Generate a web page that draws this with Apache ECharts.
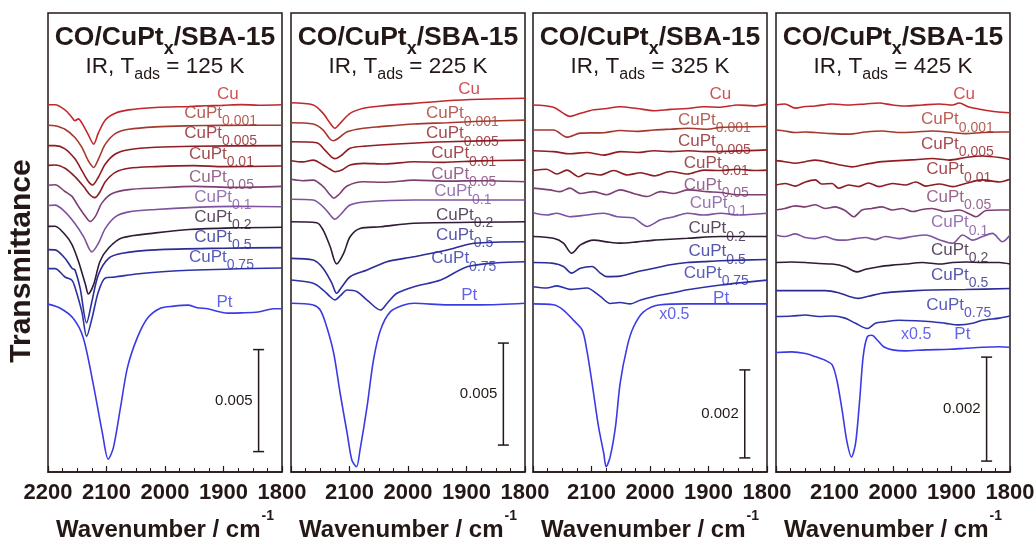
<!DOCTYPE html>
<html>
<head>
<meta charset="utf-8">
<script src="https://cdn.jsdelivr.net/npm/echarts/dist/echarts.min.js"></script>
<style>html,body{margin:0;background:#fff}#main{width:1036px;height:542px}</style>
</head>
<body>
<div id="main"></div>
<script>
// IR spectra of CO on CuPtx/SBA-15, four adsorption temperatures
var FONT = '"Liberation Sans", Arial, Helvetica, sans-serif';
var INK = '#231816';

var names = ['Cu', 'CuPt', 'CuPt', 'CuPt', 'CuPt', 'CuPt', 'CuPt', 'CuPt', 'CuPt', 'Pt'];
var subs = ['', '0.001', '0.005', '0.01', '0.05', '0.1', '0.2', '0.5', '0.75', ''];
var colors = ['#c1272d', '#a5382c', '#8f1d23', '#8a1e24', '#7d3f72', '#7d52a0', '#2f1b36', '#2b2c95', '#2d32a8', '#3b3be6'];
var temps = ['125 K', '225 K', '325 K', '425 K'];

// transmittance, offset, in units of 0.001 ; [wavenumber, value]
var t125 = [
  [[2200,18],[2188,18],[2171,17.75],[2159,17.38],[2154,17.22],[2148,17.31],[2142,17.1],[2131,16.53],[2122,16.07],[2114,16.61],[2102,17.26],[2085,17.59],[2062,17.75],[2016,17.87],[1959,17.92],[1930,17.95],[1902,17.97],[1870,18.01],[1840,17.98],[1800,18]],
  [[2200,17],[2188,16.97],[2171,16.8],[2154,16.4],[2142,15.91],[2131,15.25],[2122,14.93],[2114,15.33],[2102,16.07],[2085,16.59],[2062,16.8],[2016,16.92],[1959,16.97],[1900,16.99],[1800,17]],
  [[2200,16],[2188,16],[2171,15.84],[2154,15.35],[2142,14.77],[2131,14.24],[2124,14.07],[2114,14.45],[2102,15.1],[2085,15.59],[2062,15.8],[2016,15.92],[1950,15.97],[1800,16]],
  [[2200,15.03],[2188,15.05],[2171,14.89],[2154,14.48],[2139,13.99],[2128,13.58],[2120,13.45],[2111,13.74],[2102,14.23],[2085,14.69],[2062,14.89],[2016,14.97],[1950,15.02],[1900,14.97],[1800,15]],
  [[2200,14.06],[2188,14.08],[2171,13.75],[2159,13.51],[2148,13.02],[2136,12.53],[2128,12.28],[2119,12.53],[2108,13.18],[2091,13.64],[2062,13.84],[2016,13.92],[1950,14],[1880,13.95],[1800,14]],
  [[2200,13.06],[2188,13.08],[2171,12.75],[2154,12.18],[2139,11.53],[2125,10.79],[2114,11.2],[2102,11.94],[2085,12.51],[2062,12.75],[2016,12.87],[1950,12.97],[1880,13.02],[1800,13]],
  [[2200,12.04],[2188,12.05],[2171,11.64],[2159,11.15],[2148,10.33],[2136,9.19],[2131,8.73],[2122,9.19],[2111,10.33],[2096,10.99],[2073,11.48],[2016,11.72],[1959,11.89],[1880,11.97],[1800,12]],
  [[2200,10.9],[2188,10.89],[2171,10.48],[2159,9.99],[2154,9.91],[2145,9],[2134,7.31],[2125,8.35],[2114,9.66],[2096,10.48],[2073,10.72],[2016,10.89],[1900,10.97],[1800,11]],
  [[2200,9.97],[2188,9.97],[2171,9.56],[2159,9.4],[2154,9.07],[2142,7.84],[2134,6.65],[2125,7.51],[2114,8.82],[2102,9.51],[2085,9.56],[2045,9.72],[1959,9.89],[1800,10]],
  [[2200,8.23],[2179,8.03],[2157,7.54],[2140,6.61],[2123,4.36],[2107,1.91],[2097,0.63],[2088,1.22],[2076,3.18],[2064,5.14],[2047,6.61],[2030,7.54],[2008,8.03],[1985,8.13],[1961,8.18],[1945,8.05],[1927,8],[1893,7.79],[1870,7.8],[1841,7.84],[1814,8],[1800,8]]
];
var t225 = [
  [[2200,18.1],[2162,17.99],[2145,17.58],[2133,17.09],[2125,16.85],[2116,17.09],[2099,17.58],[2076,17.83],[2047,17.94],[1990,18.07],[1933,18.2],[1876,18.27],[1800,18.32]],
  [[2200,17.12],[2162,17.06],[2145,16.76],[2133,16.31],[2127,16.24],[2119,16.36],[2104,16.68],[2076,16.85],[2047,16.93],[1990,17.06],[1933,17.12],[1876,17.19],[1800,17.25]],
  [[2200,16.19],[2156,16.14],[2142,15.78],[2130,15.42],[2125,15.36],[2113,15.54],[2099,15.87],[2070,15.98],[2019,16.08],[1933,16.19],[1800,16.27]],
  [[2200,15.26],[2180,15.2],[2162,15.29],[2145,15.05],[2133,14.84],[2125,14.72],[2113,14.8],[2099,15.05],[2076,15.13],[2040,15.1],[1990,15.21],[1940,15.18],[1880,15.25],[1800,15.29]],
  [[2200,14.35],[2180,14.28],[2162,14.31],[2145,13.99],[2133,13.58],[2127,13.42],[2119,13.58],[2104,14.02],[2076,14.23],[2040,14.2],[1990,14.31],[1930,14.26],[1870,14.28],[1800,14.23]],
  [[2200,13.37],[2162,13.33],[2145,13],[2133,12.6],[2125,12.39],[2116,12.6],[2099,13.09],[2070,13.25],[1990,13.33],[1800,13.33]],
  [[2200,12.27],[2156,12.22],[2145,11.86],[2133,11.04],[2122,10.2],[2110,10.72],[2099,11.53],[2082,11.94],[2047,12.02],[1990,12.19],[1800,12.27]],
  [[2200,10.47],[2162,10.39],[2145,9.98],[2130,9.25],[2122,8.76],[2113,9.08],[2099,9.57],[2070,9.9],[2036,10.31],[1990,10.55],[1933,10.88],[1887,11.21],[1800,11.29]],
  [[2200,9.41],[2162,9.25],[2145,8.92],[2133,8.59],[2125,8.43],[2116,8.63],[2104,8.92],[2087,8.84],[2070,8.43],[2047,7.94],[2036,8.26],[2019,8.76],[1990,9.08],[1944,9.41],[1899,10.06],[1847,10.26],[1800,10.31]],
  [[2200,8.27],[2162,8.19],[2150,7.94],[2139,7.12],[2127,5.82],[2116,3.86],[2104,1.9],[2096,0.59],[2088,0.26],[2082,1.08],[2070,3.2],[2059,5.49],[2047,6.96],[2030,7.86],[2007,8.19],[1990,8.27],[1933,8.19],[1876,8.19],[1800,8.27]]
];
var t325 = [
  [[2200,8.34],[2165,8.29],[2148,8.15],[2137,8.08],[2119,8.15],[2096,8.23],[2074,8.26],[2051,8.3],[2022,8.26],[1993,8.21],[1965,8.24],[1936,8.26],[1908,8.3],[1879,8.29],[1850,8.34],[1822,8.32],[1800,8.36]],
  [[2200,7.77],[2165,7.77],[2142,7.61],[2119,7.7],[2079,7.71],[2051,7.76],[2022,7.74],[1993,7.77],[1965,7.79],[1936,7.81],[1902,7.79],[1879,7.83],[1800,7.85]],
  [[2200,7.3],[2165,7.28],[2137,7.23],[2108,7.26],[2079,7.2],[2051,7.28],[2022,7.26],[1993,7.3],[1965,7.28],[1936,7.3],[1902,7.28],[1800,7.32]],
  [[2200,6.85],[2177,6.88],[2159,6.77],[2142,6.86],[2122,6.71],[2108,6.79],[2085,6.75],[2062,6.85],[2039,6.75],[2016,6.8],[1993,6.73],[1965,6.83],[1936,6.77],[1908,6.86],[1879,6.85],[1850,6.88],[1822,6.85],[1800,6.86]],
  [[2200,6.45],[2171,6.41],[2154,6.37],[2137,6.45],[2119,6.33],[2096,6.37],[2074,6.3],[2051,6.41],[2028,6.33],[2005,6.26],[1982,6.37],[1959,6.33],[1936,6.41],[1902,6.37],[1879,6.35],[1850,6.3],[1822,6.3],[1800,6.3]],
  [[2200,5.89],[2177,5.84],[2159,5.88],[2137,5.8],[2108,5.84],[2079,5.88],[2056,5.8],[2028,5.77],[2005,5.58],[1982,5.73],[1959,5.8],[1936,5.88],[1908,5.84],[1879,5.88],[1850,5.84],[1800,5.88]],
  [[2200,5.35],[2165,5.31],[2148,5.2],[2134,4.97],[2119,5.16],[2096,5.27],[2074,5.23],[2051,5.2],[2022,5.23],[1993,5.27],[1965,5.29],[1936,5.31],[1879,5.35],[1800,5.35]],
  [[2200,4.76],[2165,4.74],[2148,4.67],[2134,4.52],[2119,4.63],[2099,4.67],[2085,4.52],[2074,4.44],[2051,4.45],[2022,4.55],[1993,4.63],[1965,4.71],[1936,4.76],[1908,4.78],[1879,4.8],[1800,4.83]],
  [[2200,4.21],[2177,4.18],[2159,4.23],[2137,4.15],[2108,4.18],[2085,3.99],[2068,3.83],[2051,3.85],[2034,3.82],[2016,3.91],[1993,3.99],[1965,4.06],[1936,4.14],[1879,4.25],[1800,4.36]],
  [[2200,3.82],[2165,3.8],[2148,3.68],[2131,3.45],[2116,3.23],[2108,2.77],[2099,2.02],[2088,1.03],[2079,0.42],[2075,0.12],[2068,0.35],[2059,1.03],[2051,2.02],[2039,2.85],[2028,3.3],[2011,3.64],[1982,3.8],[1936,3.82],[1879,3.82],[1800,3.82]]
];
var t425 = [
  [[2200,7.06],[2185,7.08],[2167,7],[2150,7.03],[2133,7.04],[2104,7.08],[2076,7.06],[2047,7.08],[2024,7.1],[2001,7.06],[1979,7.04],[1950,7.06],[1921,7.08],[1898,7.06],[1887,7.1],[1870,7.02],[1847,6.97],[1824,6.93],[1800,6.91]],
  [[2200,6.58],[2185,6.56],[2167,6.53],[2150,6.54],[2133,6.53],[2104,6.51],[2076,6.5],[2047,6.54],[2019,6.56],[1990,6.53],[1961,6.54],[1933,6.56],[1898,6.53],[1876,6.51],[1847,6.53],[1818,6.54],[1800,6.54]],
  [[2200,5.99],[2185,5.97],[2167,5.94],[2150,5.97],[2133,6],[2104,5.94],[2087,5.9],[2070,5.87],[2047,5.92],[2019,5.97],[1990,5.99],[1961,6.01],[1933,6.03],[1904,6],[1876,6.05],[1847,6.08],[1818,6.05],[1800,6.01]],
  [[2200,5.52],[2185,5.55],[2167,5.5],[2150,5.58],[2133,5.62],[2122,5.54],[2104,5.55],[2093,5.46],[2076,5.52],[2059,5.49],[2042,5.56],[2024,5.49],[2001,5.55],[1979,5.52],[1961,5.58],[1944,5.5],[1921,5.54],[1898,5.49],[1876,5.55],[1847,5.62],[1818,5.58],[1800,5.63]],
  [[2200,5.04],[2185,5.07],[2167,5.12],[2150,5.1],[2133,5.14],[2116,5.07],[2099,5.1],[2082,5.03],[2067,4.91],[2053,5.04],[2036,5.07],[2019,5.1],[2001,5.04],[1984,5.07],[1967,5.01],[1950,5.05],[1933,5.07],[1910,5.01],[1887,5.04],[1870,4.97],[1858,4.91],[1841,5.03],[1818,5.04],[1800,5.04]],
  [[2200,4.56],[2185,4.53],[2167,4.58],[2150,4.51],[2133,4.49],[2116,4.53],[2099,4.47],[2082,4.46],[2064,4.49],[2047,4.51],[2030,4.47],[2013,4.53],[1990,4.49],[1967,4.53],[1944,4.56],[1921,4.47],[1898,4.4],[1881,4.56],[1864,4.46],[1847,4.53],[1830,4.59],[1813,4.43],[1800,4.56]],
  [[2200,4.03],[2173,4.04],[2150,4.03],[2127,4.01],[2104,4],[2082,3.95],[2062,3.85],[2047,3.9],[2024,3.95],[2001,3.98],[1979,4],[1950,4.03],[1921,4],[1898,4.03],[1876,4.04],[1847,4.03],[1818,4.03],[1800,4]],
  [[2200,3.49],[2162,3.49],[2116,3.49],[2093,3.45],[2076,3.38],[2059,3.34],[2042,3.38],[2019,3.44],[1990,3.47],[1961,3.49],[1933,3.5],[1876,3.51],[1800,3.53]],
  [[2200,2.99],[2173,3],[2150,3.02],[2127,2.99],[2104,3],[2082,2.96],[2064,2.86],[2044,2.76],[2030,2.86],[2013,2.89],[1990,2.92],[1961,2.91],[1933,2.89],[1910,2.86],[1887,2.83],[1864,2.86],[1847,2.92],[1818,2.96],[1800,3]],
  [[2200,2.3],[2173,2.31],[2150,2.28],[2133,2.22],[2116,2.15],[2104,2.06],[2096,1.77],[2087,1.19],[2079,0.6],[2071,0.29],[2064,0.55],[2057,1.38],[2051,2.22],[2044,2.6],[2036,2.63],[2027,2.54],[2016,2.41],[2001,2.35],[1979,2.33],[1944,2.35],[1904,2.36],[1876,2.38],[1847,2.4],[1818,2.41],[1800,2.4]]
];

// where each curve name sits (left edge wavenumber, value)
var lab125 = [[1912,18.53],[1968,17.6],[1968,16.62],[1960,15.59],[1960,14.46],[1951,13.48],[1951,12.5],[1951,11.52],[1960,10.54],[1913,8.33]];
var lab225 = [[1915,18.76],[1970,17.58],[1970,16.6],[1961,15.62],[1961,14.61],[1956,13.74],[1953,12.6],[1953,11.62],[1961,10.47],[1910,8.68]];
var lab325 = [[1899,8.59],[1953,8.0],[1953,7.51],[1943,7.02],[1943,6.52],[1933,6.11],[1935,5.54],[1935,5.01],[1943,4.52],[1893,3.95]];
var lab425 = [[1898,7.27],[1953,6.78],[1953,6.31],[1944,5.82],[1944,5.29],[1936,4.8],[1936,4.27],[1936,3.79],[1944,3.21],[1896,2.65]];
var halfMark = [null, null, [1985, 3.57], [1987, 2.65]];   // "x0.5" notes

// scale bars: [wavenumber, from, to]
var bars = [[1840, 1, 6], [1837, 1.32, 6.32], [1838, 0.32, 2.32], [1840, 0.21, 2.21]];
var barText = ['0.005', '0.005', '0.002', '0.002'];
var yTop = [22.5, 22.5, 10.43, 8.83];

var panels = [t125, t225, t325, t425];
var labels = [lab125, lab225, lab325, lab425];
var gridLeft = [48, 291, 533, 776];
var gridW = 234;

var myChart = echarts.init(document.getElementById('main'));

function nameItem(p, text, sub, color) {
    return {
        value: p,
        label: {
            formatter: sub ? '{m|' + text + '}{s|' + sub + '}' : '{m|' + text + '}',
            rich: {
                m: { fontSize: 17, lineHeight: 20, color: color, fontFamily: FONT },
                s: { fontSize: 14, lineHeight: 20, color: color, fontFamily: FONT, padding: [17, 0, 0, 0] }
            }
        }
    };
}

var grids = [], xAxes = [], yAxes = [], titles = [], series = [];

panels.forEach(function (curves, i) {
    grids.push({
        left: gridLeft[i], top: 13, width: gridW, height: 459,
        show: true, borderColor: INK, borderWidth: 1.5,
        containLabel: false, outerBoundsMode: 'none'
    });
    xAxes.push({
        type: 'value', gridIndex: i, min: 1800, max: 2200, interval: 100, inverse: true,
        axisLine: { show: true, lineStyle: { color: INK, width: 1.5 } },
        axisTick: { show: true, inside: true, length: 6, lineStyle: { color: INK, width: 1.2 } },
        minorTick: { show: true, splitNumber: 4, length: 4, lineStyle: { color: INK, width: 1 } },
        splitLine: { show: false },
        axisLabel: {
            showMaxLabel: i === 0, color: INK, fontSize: 22, fontWeight: 'bold',
            fontFamily: FONT, margin: 10,
            formatter: function (v) { return String(v); }
        },
        name: '{a|Wavenumber / cm}{b|-1}',
        nameLocation: 'middle', nameGap: 40,
        nameTextStyle: {
            rich: {
                a: { fontSize: 24, fontWeight: 'bold', lineHeight: 30, color: INK, fontFamily: FONT },
                b: { fontSize: 14, fontWeight: 'bold', lineHeight: 30, color: INK, fontFamily: FONT, padding: [0, 0, 28, 1] }
            }
        }
    });
    yAxes.push({ type: 'value', gridIndex: i, min: 0, max: yTop[i], show: false });

    titles.push({
        left: gridLeft[i] + gridW / 2, top: 23.5, textAlign: 'center', padding: 0,
        text: '{t|CO/CuPt}{ts|x}{t|/SBA-15}\n{r|IR, T}{rs|ads}{r| = ' + temps[i] + '}',
        textStyle: {
            rich: {
                t: { fontSize: 26.5, fontWeight: 'bold', lineHeight: 29, color: INK, fontFamily: FONT },
                ts: { fontSize: 18, fontWeight: 'bold', lineHeight: 29, color: INK, fontFamily: FONT, padding: [22, 0, 0, 0] },
                r: { fontSize: 22.5, fontWeight: 'normal', lineHeight: 29, color: INK, fontFamily: FONT },
                rs: { fontSize: 16, fontWeight: 'normal', lineHeight: 29, color: INK, fontFamily: FONT, padding: [16, 0, 0, 0] }
            }
        }
    });

    curves.forEach(function (c, k) {
        series.push({
            type: 'line', xAxisIndex: i, yAxisIndex: i, data: c,
            showSymbol: false, symbol: 'none', smooth: 0.3,
            lineStyle: { color: colors[k], width: 1.6 },
            silent: true, animation: false
        });
    });

    var items = labels[i].map(function (p, k) {
        return nameItem(p, names[k], subs[k], colors[k]);
    });
    if (halfMark[i]) {
        var hm = nameItem(halfMark[i], 'x0.5', '', colors[9]);
        hm.label.rich.m.fontSize = 16;
        items.push(hm);
    }
    series.push({
        type: 'scatter', xAxisIndex: i, yAxisIndex: i, symbolSize: 1,
        itemStyle: { color: 'rgba(0,0,0,0)' },
        label: { show: true, position: 'right', distance: 0 },
        data: items, silent: true, animation: false, z: 5
    });

    series.push({
        type: 'custom', xAxisIndex: i, yAxisIndex: i, data: [bars[i]],
        silent: true, animation: false,
        renderItem: function (params, api) {
            var a = api.coord([api.value(0), api.value(2)]);
            var b = api.coord([api.value(0), api.value(1)]);
            var st = { stroke: INK, lineWidth: 1.5 };
            return {
                type: 'group',
                children: [
                    { type: 'line', shape: { x1: a[0], y1: a[1], x2: b[0], y2: b[1] }, style: st },
                    { type: 'line', shape: { x1: a[0] - 5.5, y1: a[1], x2: a[0] + 5.5, y2: a[1] }, style: st },
                    { type: 'line', shape: { x1: b[0] - 5.5, y1: b[1], x2: b[0] + 5.5, y2: b[1] }, style: st },
                    {
                        type: 'text', x: a[0] - 6, y: (a[1] + b[1]) / 2,
                        style: {
                            text: barText[i], fill: INK, font: '15px ' + FONT,
                            align: 'right', verticalAlign: 'middle'
                        }
                    }
                ]
            };
        }
    });
});

var option = {
    backgroundColor: '#fff',
    animation: false,
    title: titles,
    grid: grids,
    xAxis: xAxes,
    yAxis: yAxes,
    graphic: [{
        type: 'text', x: 22, y: 261, rotation: Math.PI / 2,
        style: {
            text: 'Transmittance', fill: INK, font: 'bold 30px ' + FONT,
            align: 'center', verticalAlign: 'middle'
        }
    }],
    series: series
};
myChart.setOption(option);
</script>
</body>
</html>
